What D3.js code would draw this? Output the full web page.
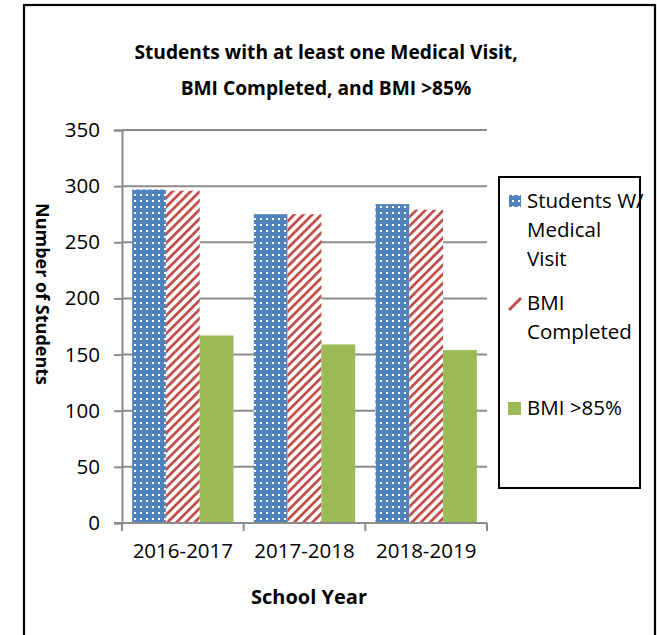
<!DOCTYPE html>
<html><head><meta charset="utf-8">
<script src="https://cdn.jsdelivr.net/npm/d3@7"></script>
<style>body{margin:0;background:#fff} svg{display:block}</style>
</head><body><svg id="c" width="657" height="635"></svg>
<script>
const categories = ["2016-2017", "2017-2018", "2018-2019"];
const medicalVisit = [297, 275, 284];
const bmiCompleted = [296, 275, 279];
const bmiOver85 = [167, 159, 154];
const yTicks = [0, 50, 100, 150, 200, 250, 300, 350];
const legendLines = [["Students W/", "Medical", "Visit"], ["BMI", "Completed"], ["BMI >85%"]];
const titleLines = ["Students with at least one Medical Visit,", "BMI Completed, and BMI >85%"];

const FONT = "'Open Sans', sans-serif";
const svg = d3.select("#c");
const defs = svg.append("defs");

// dotted pattern
const pd = defs.append("pattern").attr("id", "dots").attr("patternUnits", "userSpaceOnUse")
  .attr("width", 6).attr("height", 6);
pd.append("rect").attr("width", 6).attr("height", 6).attr("fill", "#4F81BD");
pd.append("rect").attr("x", 2).attr("y", 2).attr("width", 2).attr("height", 2).attr("fill", "#fff");

// diagonal stripes
const ps = defs.append("pattern").attr("id", "stripes").attr("patternUnits", "userSpaceOnUse")
  .attr("width", 6.4).attr("height", 6.4).attr("patternTransform", "rotate(45)");
ps.append("rect").attr("width", 6.4).attr("height", 6.4).attr("fill", "#fff");
ps.append("rect").attr("width", 2.8).attr("height", 6.4).attr("fill", "#C0504D");

const fills = ["url(#dots)", "url(#stripes)", "#9BBB59"];
const series = [medicalVisit, bmiCompleted, bmiOver85];

// outer border
svg.append("rect").attr("x", 24).attr("y", 5).attr("width", 631).attr("height", 700)
  .attr("fill", "none").attr("stroke", "#000").attr("stroke-width", 2.2);

const plot = {left: 122, right: 487, top: 130, bottom: 523};
const x = d3.scaleBand().domain(categories).range([plot.left, plot.right]).padding(0);
const y = d3.scaleLinear().domain([0, 350]).range([plot.bottom, plot.top]);

// gridlines
svg.append("g").selectAll("line").data(yTicks.filter(d => d > 0)).join("line")
  .attr("x1", plot.left).attr("x2", plot.right)
  .attr("y1", d => y(d)).attr("y2", d => y(d))
  .attr("stroke", "#8c8c8c").attr("stroke-width", 2);

// bars
const bw = x.bandwidth();
const barW = bw / 3.6;
const off = bw * 0.3 / 3.6;
series.forEach((vals, si) => {
  svg.append("g").selectAll("rect").data(vals).join("rect")
    .attr("x", (d, i) => x(categories[i]) + off + si * barW)
    .attr("y", d => y(d))
    .attr("width", barW)
    .attr("height", d => y(0) - y(d))
    .attr("fill", fills[si]);
});

// y axis
const yAxis = svg.append("g").attr("transform", `translate(${plot.left},0)`)
  .call(d3.axisLeft(y).tickValues(yTicks).tickSize(8).tickPadding(14).tickFormat(d3.format("d")));
yAxis.select(".domain").attr("stroke", "#8c8c8c").attr("stroke-width", 2);
yAxis.selectAll(".tick line").attr("stroke", "#8c8c8c").attr("stroke-width", 2);
yAxis.selectAll("text").attr("font-family", FONT).attr("font-size", 20.5).attr("fill", "#000");

// x axis
const xAxis = svg.append("g").attr("transform", `translate(0,${plot.bottom})`)
  .call(d3.axisBottom(x).tickSize(0).tickPadding(20));
xAxis.select(".domain").remove();
xAxis.append("line").attr("x1", plot.left - 8).attr("x2", plot.right).attr("stroke", "#8c8c8c").attr("stroke-width", 2);
const bounds = categories.map(c => x(c)).concat([plot.right]);
xAxis.selectAll(".bt").data(bounds).join("line").attr("class", "bt")
  .attr("x1", d => d).attr("x2", d => d).attr("y1", 0).attr("y2", 8)
  .attr("stroke", "#8c8c8c").attr("stroke-width", 2);
xAxis.selectAll(".tick text").attr("font-family", FONT).attr("font-size", 20.5).attr("fill", "#000");

// title
svg.append("g").selectAll("text").data(titleLines).join("text")
  .attr("x", 326).attr("y", (d, i) => 59 + i * 36)
  .attr("text-anchor", "middle").attr("font-family", FONT).attr("font-weight", "bold")
  .attr("font-size", 19.2).text(d => d);

// axis titles
svg.append("text").attr("x", 309).attr("y", 604).attr("text-anchor", "middle")
  .attr("font-family", FONT).attr("font-weight", "bold").attr("font-size", 20).text("School Year");
svg.append("text").attr("transform", "translate(42,294) rotate(90)").attr("text-anchor", "middle")
  .attr("dy", "0.35em").attr("font-family", FONT).attr("font-weight", "bold").attr("font-size", 18)
  .text("Number of Students");

// legend
svg.append("rect").attr("x", 499).attr("y", 177).attr("width", 141).attr("height", 311)
  .attr("fill", "#fff").attr("stroke", "#000").attr("stroke-width", 2);
const legendY = [201, 303, 408];
const lg = svg.append("g");
legendLines.forEach((lines, i) => {
  if (i === 0) {
    lg.append("rect").attr("x", 509).attr("y", legendY[i] - 6).attr("width", 12).attr("height", 12).attr("fill", fills[0]);
  } else if (i === 1) {
    lg.append("line").attr("x1", 509).attr("y1", legendY[i] + 7).attr("x2", 521).attr("y2", legendY[i] - 5)
      .attr("stroke", "#C0504D").attr("stroke-width", 3);
  } else {
    lg.append("rect").attr("x", 508).attr("y", legendY[i] - 6).attr("width", 13).attr("height", 13).attr("fill", fills[2]);
  }
  lines.forEach((t, j) => {
    lg.append("text").attr("x", 527).attr("y", legendY[i] + j * 29).attr("dy", "0.35em")
      .attr("font-family", FONT).attr("font-size", 20.5).text(t);
  });
});
</script></body></html>
